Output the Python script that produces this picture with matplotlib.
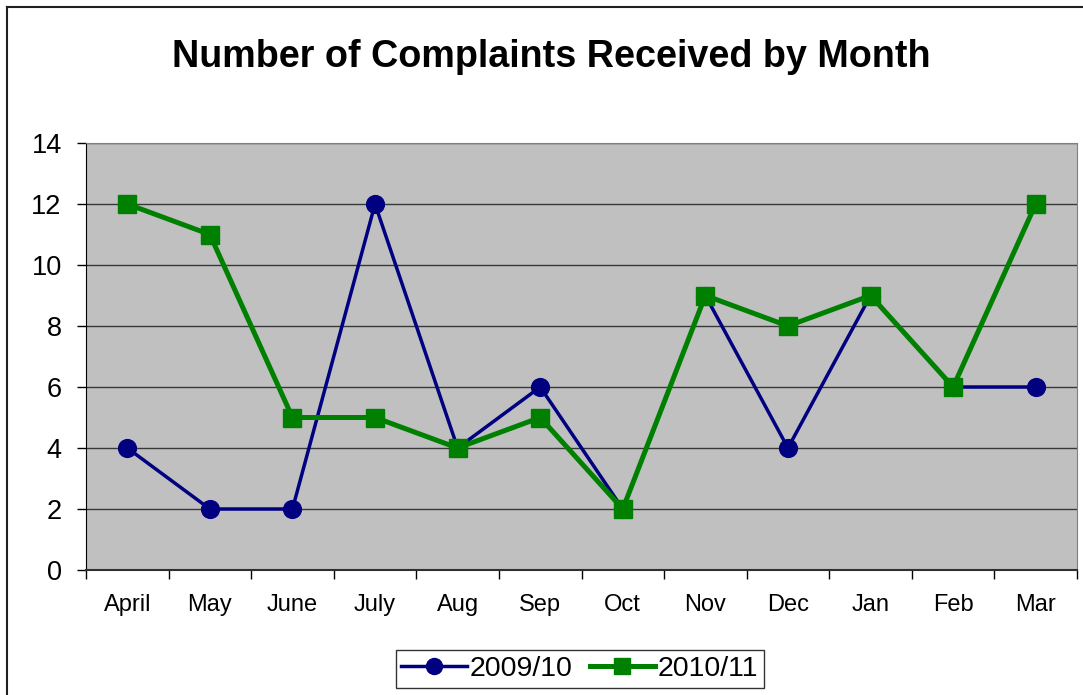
import numpy as np
import matplotlib.pyplot as plt
from matplotlib.lines import Line2D

months = ['April', 'May', 'June', 'July', 'Aug', 'Sep', 'Oct', 'Nov', 'Dec', 'Jan', 'Feb', 'Mar']
complaints_0910 = [4, 2, 2, 12, 4, 6, 2, 9, 4, 9, 6, 6]
complaints_1011 = [12, 11, 5, 5, 4, 5, 2, 9, 8, 9, 6, 12]

plt.rcParams['font.family'] = ['Liberation Sans', 'DejaVu Sans']

W, H = 1083, 695
fig = plt.figure(figsize=(W / 100, H / 100), dpi=100)
ax = fig.add_axes([86 / W, 1 - 570 / H, (1077 - 86) / W, (570 - 143) / H])
ax.set_facecolor('#C0C0C0')

x = np.arange(len(months))
ax.plot(x, complaints_0910, color='#000080', lw=2.5, marker='o', ms=12.8,
        label='2009/10', zorder=3)
ax.plot(x, complaints_1011, color='#008000', lw=3.6, marker='s', ms=12.8,
        label='2010/11', zorder=4)

ax.set_xlim(-0.5, 11.5)
ax.set_ylim(0, 14)
ax.set_yticks(range(0, 15, 2))
ax.yaxis.grid(True, color='#383838', lw=1)
ax.set_axisbelow(True)
ax.tick_params(axis='y', labelsize=19.5, length=6.5, width=1, direction='out', pad=11)

# month labels at centres, tick marks between categories
ax.set_xticks(x)
ax.set_xticklabels(months)
ax.set_xticks(np.arange(-0.5, 12, 1), minor=True)
ax.tick_params(axis='x', which='major', length=0, labelsize=17, pad=17)
ax.tick_params(axis='x', which='minor', length=6.5, width=1, direction='out')

for side in ['top', 'right']:
    ax.spines[side].set_color('#808080')
ax.spines['left'].set_color('black')
ax.spines['bottom'].set_color('#303030')
ax.spines['bottom'].set_linewidth(1.5)

fig.text(551 / W, 1 - 57 / H,
         'Number of Complaints Received by Month',
         ha='center', va='center', fontsize=27.2, fontweight='bold')

leg = fig.legend(loc='center', bbox_to_anchor=(580 / W, 1 - 669 / H), ncol=2,
                 fontsize=20.5, frameon=True, fancybox=False, edgecolor='black',
                 handlelength=2.3, handletextpad=0.1, columnspacing=0.6,
                 borderpad=0.2, markerscale=0.9)
leg.get_frame().set_linewidth(1)

# outer chart border (top and left edges visible)
fig.add_artist(Line2D([7 / W, 1], [1 - 7 / H, 1 - 7 / H], color='#202020', lw=1.5))
fig.add_artist(Line2D([7 / W, 7 / W], [0, 1 - 7 / H], color='#202020', lw=1.5))

fig.savefig('out.png', dpi=100)
